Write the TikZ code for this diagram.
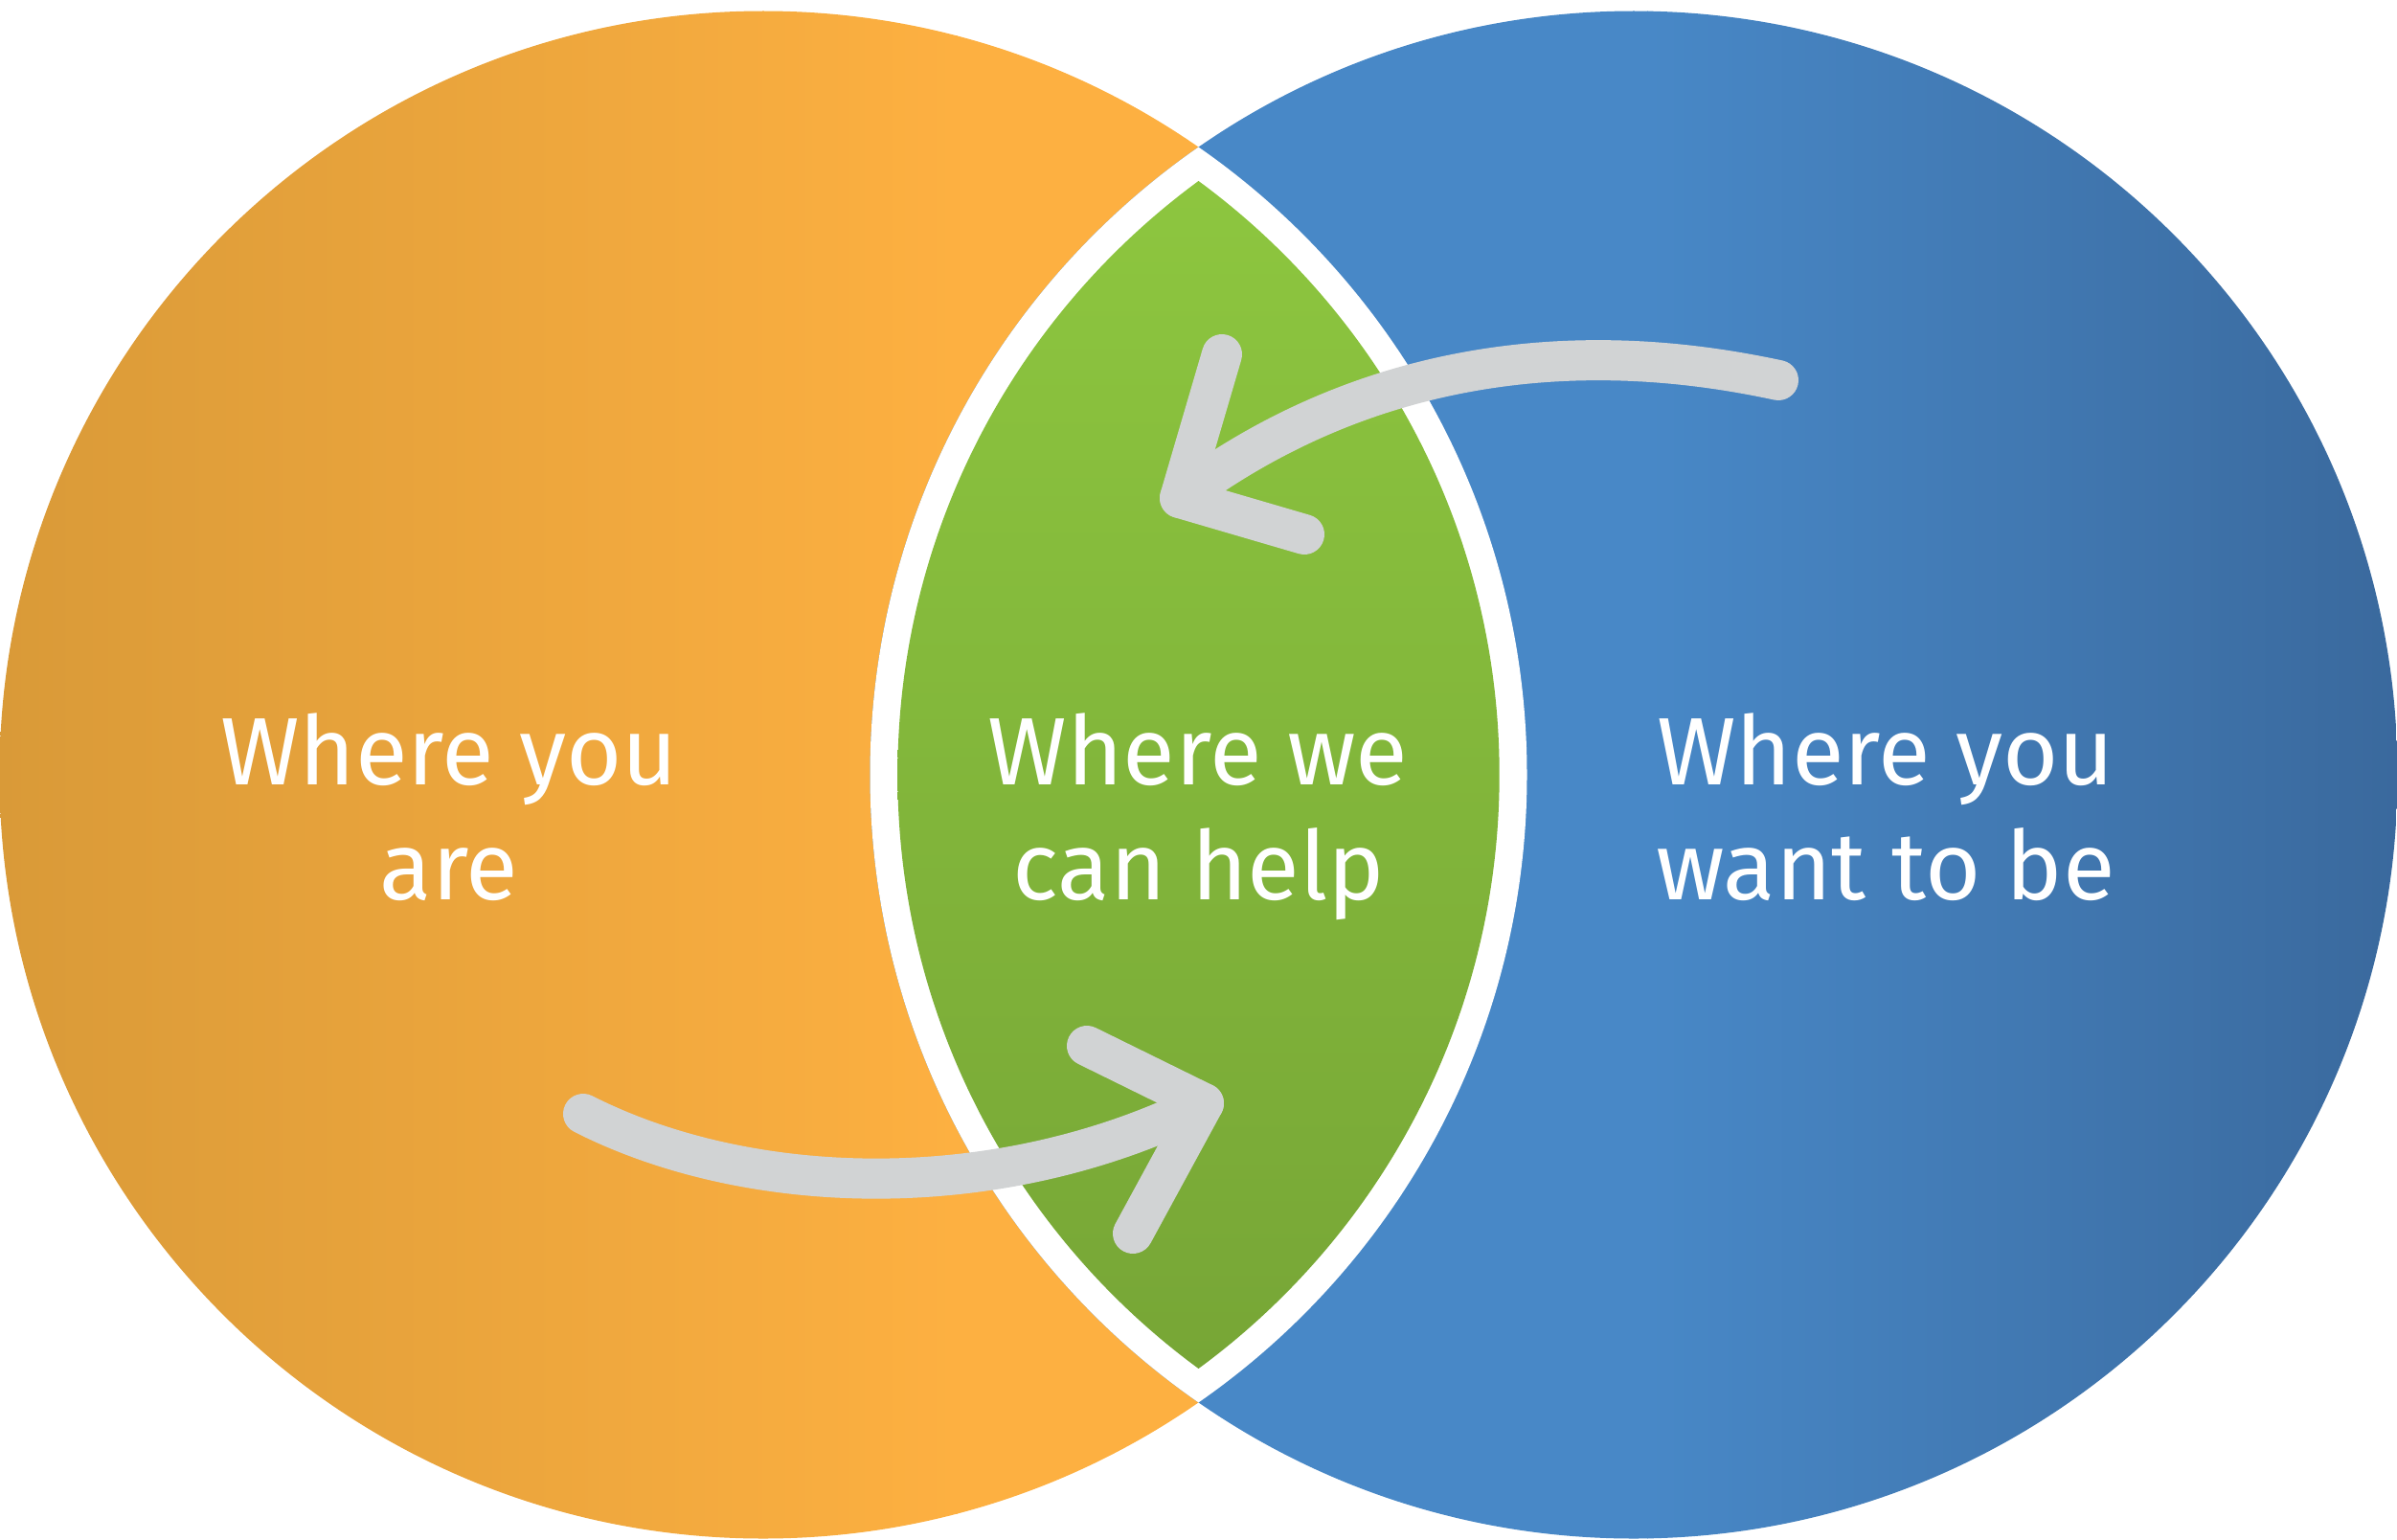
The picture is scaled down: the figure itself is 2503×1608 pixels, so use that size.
\documentclass[tikz,border=0pt]{standalone}
\usepackage{fontspec}
\setmainfont{Fira Sans}
\definecolor{orgA}{HTML}{D99A38}
\definecolor{orgB}{HTML}{FDB041}
\definecolor{bluA}{HTML}{4888C7}
\definecolor{bluB}{HTML}{3A699D}
\definecolor{grnA}{HTML}{8DC63F}
\definecolor{grnB}{HTML}{77A636}
\definecolor{arrowgray}{HTML}{D1D3D4}
\tikzset{
  bigarrow/.style={draw=arrowgray, line width=42pt, line cap=round, line join=round},
  label/.style={text=white, inner sep=0pt, anchor=base, font=\fontsize{100}{120}\selectfont}
}
\begin{document}
\begin{tikzpicture}[x=1pt,y=-1pt]
\useasboundingbox (0,0) rectangle (2503,1608);
\coordinate (cL) at (797,809);
\coordinate (cR) at (1706,809);
% orange circle
\begin{scope}
  \clip (cL) circle[radius=797.5pt];
  \shade[left color=orgA, right color=orgB] (-1,0) rectangle (1000,1608);
  \fill[orgB] (999,0) rectangle (1600,1608);
\end{scope}
% blue circle
\begin{scope}
  \clip (cR) circle[radius=797.5pt];
  \fill[bluA] (900,0) rectangle (1721,1608);
  \shade[left color=bluA, right color=bluB] (1720,0) rectangle (2505,1608);
\end{scope}
% white overlap
\begin{scope}
  \clip (cL) circle[radius=797.5pt];
  \fill[white] (cR) circle[radius=797.5pt];
\end{scope}
% green lens
\begin{scope}
  \clip (cL) circle[radius=768.7pt];
  \clip (cR) circle[radius=768.7pt];
  \shade[top color=grnA, bottom color=grnB] (900,189) rectangle (1600,1428);
\end{scope}
% arrows
\coordinate (tS) at (1857,397);
\coordinate (tT) at (1232,520);
\coordinate (tU) at (1276,370);
\coordinate (tD) at (1362,558);
\draw[bigarrow] (tS) .. controls (1740,372) and (1480,335) .. (tT);
\draw[bigarrow] (tU) -- (tT) -- (tD);
\coordinate (bS) at (609,1163);
\coordinate (bT) at (1257,1152);
\coordinate (bU) at (1135,1092);
\coordinate (bD) at (1183,1288);
\draw[bigarrow] (bS) .. controls (780,1250) and (1040,1260) .. (bT);
\draw[bigarrow] (bU) -- (bT) -- (bD);
% labels
\node[label] (l1) at (469,819) {Where you};
\node[label] (l2) at (469,939) {are};
\node[label] (m1) at (1251,819) {Where we};
\node[label] (m2) at (1252,939) {can help};
\node[label] (r1) at (1969,819) {Where you};
\node[label] (r2) at (1969,939) {want to be};
\end{tikzpicture}
\end{document}
